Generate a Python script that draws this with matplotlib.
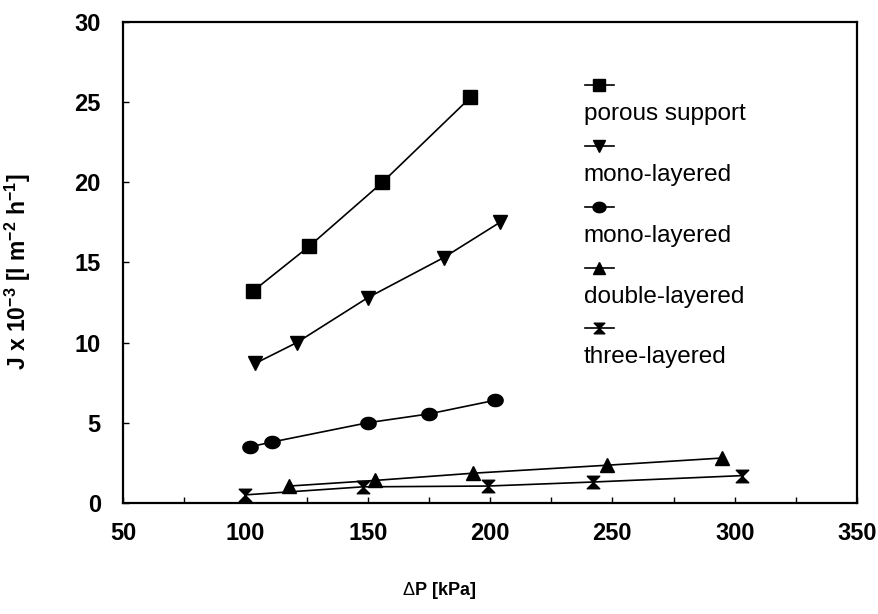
import matplotlib
matplotlib.use("Agg")
import numpy as np
import matplotlib.pyplot as plt
from matplotlib.path import Path

plt.rcParams["font.family"] = ["Liberation Sans", "DejaVu Sans"]
plt.rcParams["mathtext.fontset"] = "custom"
plt.rcParams["mathtext.rm"] = "Liberation Sans"
plt.rcParams["mathtext.bf"] = "Liberation Sans:bold"

# flux J x 10^-3 [l m^-2 h^-1] against transmembrane pressure dP [kPa]
porous_dp = [103, 126, 156, 192]
porous_j = [13.2, 16.0, 20.0, 25.3]

mono1_dp = [104, 121, 150, 181, 204]
mono1_j = [8.7, 10.0, 12.8, 15.3, 17.5]

mono2_dp = [102, 111, 150, 175, 202]
mono2_j = [3.5, 3.8, 5.0, 5.55, 6.4]

double_dp = [118, 153, 193, 248, 295]
double_j = [1.05, 1.4, 1.85, 2.35, 2.8]

three_dp = [100, 148, 199, 242, 303]
three_j = [0.5, 1.0, 1.05, 1.3, 1.7]

labels = ["porous support", "mono-layered", "mono-layered",
          "double-layered", "three-layered"]

# hourglass-shaped marker for the three-layered series
hourglass = Path([(-1, 1), (1, 1), (0, 0), (-1, 1),
                  (-1, -1), (1, -1), (0, 0), (-1, -1)],
                 [Path.MOVETO, Path.LINETO, Path.LINETO, Path.CLOSEPOLY,
                  Path.MOVETO, Path.LINETO, Path.LINETO, Path.CLOSEPOLY])

# slightly flattened dot
t = np.linspace(0, 2 * np.pi, 40)
ellipse = Path(np.column_stack([np.cos(t), 0.8 * np.sin(t)]), closed=True)

series = [
    (porous_dp, porous_j, "s", 9.5),
    (mono1_dp, mono1_j, "v", 10.5),
    (mono2_dp, mono2_j, ellipse, 11),
    (double_dp, double_j, "^", 10.5),
    (three_dp, three_j, hourglass, 9),
]

fig = plt.figure(figsize=(8.79, 6.14), dpi=100)
ax = fig.add_axes([0.140, 0.181, 0.835, 0.783])

for dp, j, mk, ms in series:
    ax.plot(dp, j, color="black", lw=1.2, marker=mk, ms=ms,
            markerfacecolor="black", markeredgecolor="black")

ax.set_xlim(50, 350)
ax.set_ylim(0, 30)
ax.set_xticks(range(50, 351, 50))
ax.set_yticks(range(0, 31, 5))
ax.set_xticks(range(75, 350, 25), minor=True)
ax.tick_params(axis="both", which="both", direction="in", length=4, width=1)
ax.tick_params(axis="x", which="major", pad=14, labelsize=17)
ax.tick_params(axis="y", which="major", pad=16, labelsize=17)
for lab in ax.get_xticklabels() + ax.get_yticklabels():
    lab.set_fontweight("bold")
for sp in ax.spines.values():
    sp.set_linewidth(1.6)

# legend: marker sample above each wrapped label
leg_x = 0.664
handle_y = [0.862, 0.762, 0.663, 0.563, 0.465]
text_y = [0.814, 0.715, 0.615, 0.517, 0.418]
for (dp, j, mk, ms), lbl, hy, ty in zip(series, labels, handle_y, text_y):
    fig.add_artist(plt.Line2D([leg_x + 0.002, leg_x + 0.034], [hy, hy],
                              transform=fig.transFigure, color="black", lw=1.2))
    fig.add_artist(plt.Line2D([leg_x + 0.018], [hy],
                              transform=fig.transFigure, color="black",
                              marker=mk, ms=ms * 0.85, ls="none"))
    fig.text(leg_x, ty, lbl, fontsize=17.5, va="center", ha="left")

fig.text(0.500, 0.039, r"$\Delta$P [kPa]", fontsize=13, fontweight="bold",
         ha="center", va="center")
fig.text(0.020, 0.557, r"J x 10$^{\mathbf{-3}}$ [l m$^{\mathbf{-2}}$ h$^{\mathbf{-1}}$]",
         fontsize=16.5, fontweight="bold", rotation=90, ha="center", va="center")

fig.savefig("out.png", dpi=100)
